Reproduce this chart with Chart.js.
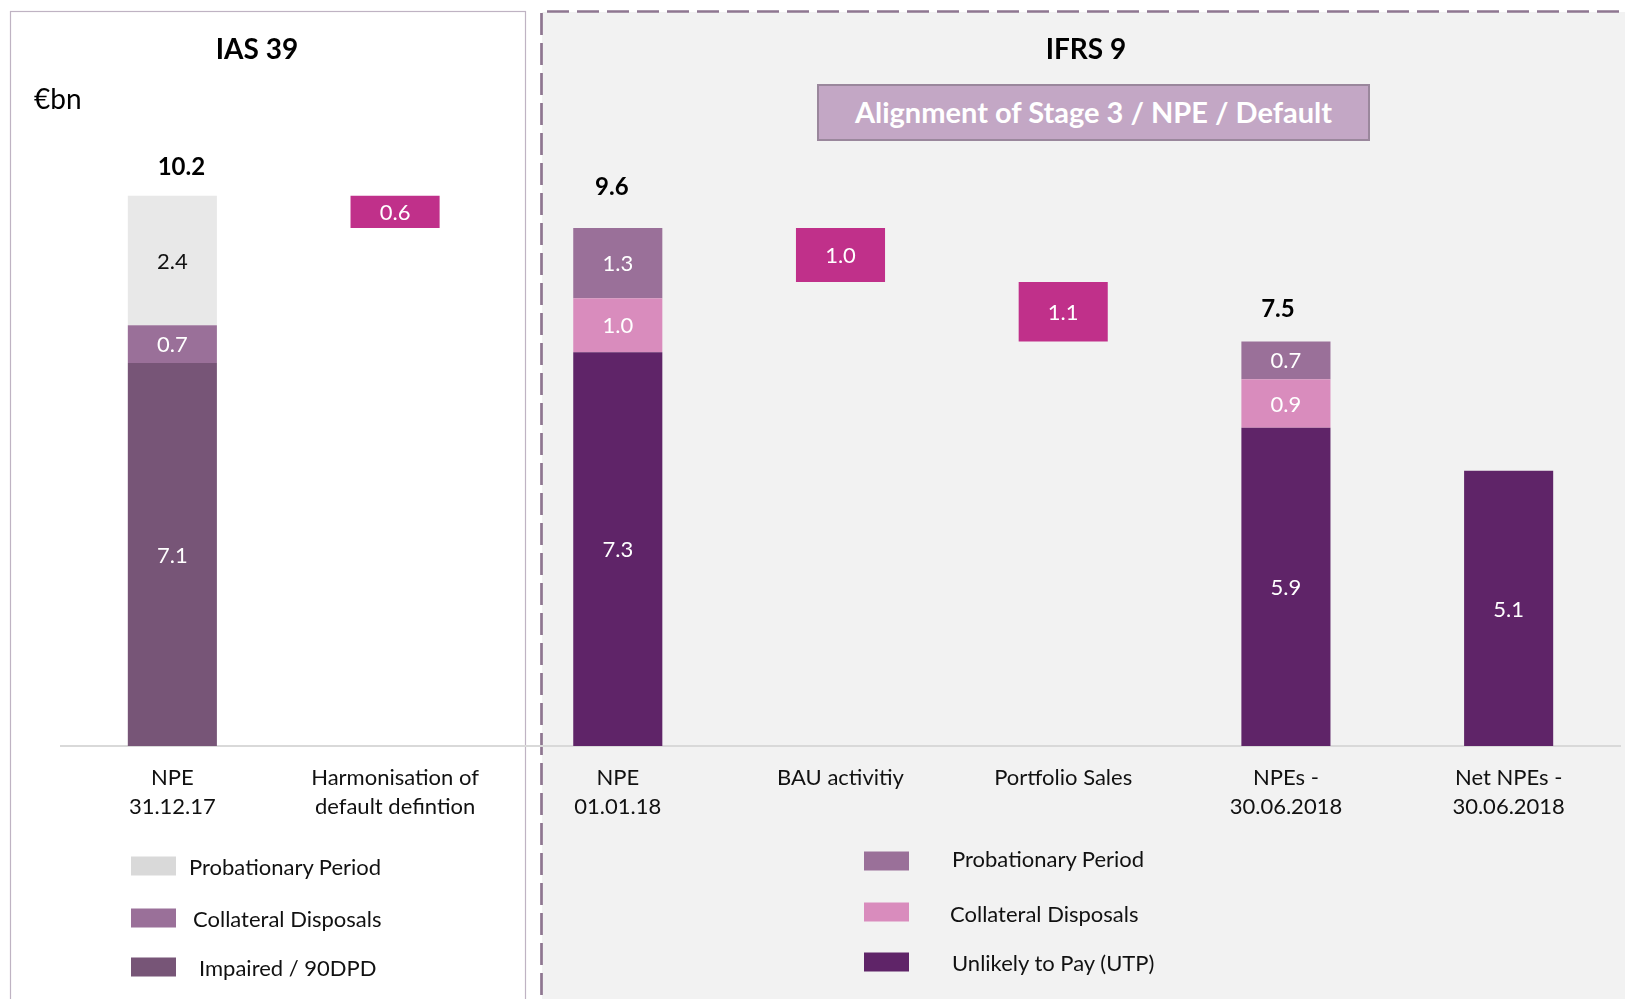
<!DOCTYPE html>
<html>
<head>
<meta charset="utf-8">
<script src="https://cdn.jsdelivr.net/npm/chart.js@4"></script>
<style>
  body { margin: 0; background: #fff; font-family: Lato, "Noto Sans", sans-serif; }
  #wrap { position: relative; width: 1625px; height: 999px; overflow: hidden; }
  #chart { position: absolute; left: 0; top: 0; }
  .txt { position: absolute; white-space: nowrap; color: #000; line-height: 1; }
  .title { font-weight: bold; font-size: 28px; transform: translate(-50%, -50%); }
  .unit { font-size: 28px; transform: translateY(-50%); }
  .banner {
    position: absolute; left: 817px; top: 84px; width: 549px; height: 51px;
    background: #c3a7c5; border: 2px solid #9a879c;
    color: #fff; font-weight: bold; font-size: 29px;
    display: flex; align-items: center; justify-content: center;
    padding-bottom: 2px; box-sizing: content-box;
  }
  .leg { position: absolute; font-size: 22px; color: #111; white-space: nowrap; transform: translateY(-50%); }
  .sw { position: absolute; width: 45px; height: 19px; transform: translateY(-50%); }
</style>
</head>
<body>
<div id="wrap">
  <canvas id="chart" width="1625" height="999"></canvas>
  <div class="txt title" style="left:257px; top:48px;">IAS 39</div>
  <div class="txt title" style="left:1086px; top:48px;">IFRS 9</div>
  <div class="txt unit" style="left:34px; top:98px;">€bn</div>
  <div class="banner">Alignment of Stage 3 / NPE / Default</div>

  <div class="sw" style="left:131px; top:866px; background:#d9d9d9;"></div>
  <div class="leg" style="left:189px; top:866px;">Probationary Period</div>
  <div class="sw" style="left:131px; top:918px; background:#9a7099;"></div>
  <div class="leg" style="left:193px; top:918px;">Collateral Disposals</div>
  <div class="sw" style="left:131px; top:967px; background:#775577;"></div>
  <div class="leg" style="left:199px; top:967px;">Impaired / 90DPD</div>

  <div class="sw" style="left:864px; top:861px; background:#9a7099;"></div>
  <div class="leg" style="left:952px; top:858px;">Probationary Period</div>
  <div class="sw" style="left:864px; top:912px; background:#d98cbd;"></div>
  <div class="leg" style="left:950px; top:913px;">Collateral Disposals</div>
  <div class="sw" style="left:864px; top:962px; background:#5f2468;"></div>
  <div class="leg" style="left:952px; top:962px;">Unlikely to Pay (UTP)</div>
</div>
<script>
// 데이터
const categories = [
  ["NPE", "31.12.17"],
  ["Harmonisation of", "default defintion"],
  ["NPE", "01.01.18"],
  ["BAU activitiy"],
  ["Portfolio Sales"],
  ["NPEs -", "30.06.2018"],
  ["Net NPEs -", "30.06.2018"]
];
const baseValues   = [0, 9.6, 0, 8.6, 7.5, 0, 0];     // 워터폴 시작점 (투명)
const bottomValues = [7.1, 0, 7.3, 0, 0, 5.9, 5.1];   // Impaired / UTP
const collValues   = [0.7, 0, 1.0, 0, 0, 0.9, 0];     // Collateral Disposals
const probValues   = [2.4, 0, 1.3, 0, 0, 0.7, 0];     // Probationary Period
const changeValues = [0, 0.6, 0, 1.0, 1.1, 0, 0];     // 변동분
const totals       = [10.2, null, 9.6, null, null, 7.5, null];

// 색상
const bottomColors = ["#775577", "#5f2468", "#5f2468", "#5f2468", "#5f2468", "#5f2468", "#5f2468"];
const collColors   = ["#9a7099", "#d98cbd", "#d98cbd", "#d98cbd", "#d98cbd", "#d98cbd", "#d98cbd"];
const probColors   = ["#e8e8e8", "#9a7099", "#9a7099", "#9a7099", "#9a7099", "#9a7099", "#9a7099"];
const changeColor  = "#c0308a";
// 합계 라벨 위치 보정 (px)
const totalShift = [[9, 28], null, [-6, 41], null, null, [-8, 32], null];

// 배경 패널 그리기
const panelPlugin = {
  id: "panels",
  beforeDraw(chart) {
    const c = chart.ctx;
    c.save();
    c.fillStyle = "#fff";
    c.fillRect(0, 0, chart.width, chart.height);
    c.fillStyle = "#f2f2f2";
    c.fillRect(542, 12, chart.width - 542, chart.height - 12);
    c.strokeStyle = "#bfb3c3";
    c.lineWidth = 1.2;
    c.strokeRect(10.5, 11.5, 515, 1010);
    c.strokeStyle = "#8f7791";
    c.lineWidth = 2.7;
    c.setLineDash([22, 8]);
    c.beginPath();
    c.moveTo(541.5, 13);
    c.lineTo(541.5, chart.height);
    c.moveTo(547, 11.5);
    c.lineTo(chart.width, 11.5);
    c.stroke();
    c.restore();
  }
};

// 막대 안 숫자 + 합계
const labelPlugin = {
  id: "barLabels",
  afterDatasetsDraw(chart) {
    const c = chart.ctx;
    c.save();
    c.textAlign = "center";
    c.textBaseline = "middle";
    c.font = "22px Lato";
    const topY = [];
    chart.data.datasets.forEach((ds, i) => {
      if (ds.isBase) return;
      const meta = chart.getDatasetMeta(i);
      meta.data.forEach((bar, j) => {
        const v = ds.data[j];
        if (!v) return;
        topY[j] = topY[j] === undefined ? bar.y : Math.min(topY[j], bar.y);
        c.fillStyle = ds.labelColors ? ds.labelColors[j] : "#fff";
        c.fillText(v.toFixed(1), bar.x, (bar.y + bar.base) / 2 + 1);
      });
    });
    c.font = "bold 24px Lato";
    c.fillStyle = "#000";
    const xs = chart.scales.x;
    totals.forEach((t, j) => {
      if (t == null) return;
      const s = totalShift[j] || [0, 30];
      c.fillText(t.toFixed(1), xs.getPixelForValue(j) + s[0], topY[j] - s[1]);
    });
    c.restore();
  }
};

const ctx = document.getElementById("chart").getContext("2d");
const myChart = new Chart(ctx, {
  type: "bar",
  data: {
    labels: categories,
    datasets: [
      { label: "base", data: baseValues, backgroundColor: "rgba(0,0,0,0)", isBase: true },
      { label: "Impaired / UTP", data: bottomValues, backgroundColor: bottomColors },
      { label: "Collateral Disposals", data: collValues, backgroundColor: collColors },
      { label: "Probationary Period", data: probValues, backgroundColor: probColors,
        labelColors: ["#111", "#fff", "#fff", "#fff", "#fff", "#fff", "#fff"] },
      { label: "Change", data: changeValues, backgroundColor: changeColor }
    ]
  },
  options: {
    responsive: false,
    animation: false,
    devicePixelRatio: 1,
    layout: { padding: { left: 61, right: 5, top: 98.6, bottom: 0 } },
    datasets: { bar: { barPercentage: 0.4, categoryPercentage: 1.0, borderWidth: 0 } },
    plugins: { legend: { display: false }, tooltip: { enabled: false } },
    scales: {
      x: {
        stacked: true,
        grid: { display: false, drawTicks: false },
        border: { display: true, color: "#d9d9d9", width: 2 },
        ticks: {
          color: "#111",
          font: { family: "Lato", size: 22, lineHeight: 1.32 },
          padding: 17,
          maxRotation: 0,
          autoSkip: false
        },
        afterFit(scale) { scale.height = 253; }
      },
      y: {
        stacked: true,
        display: false,
        min: 0,
        max: 12
      }
    }
  },
  plugins: [panelPlugin, labelPlugin]
});
</script>
</body>
</html>
